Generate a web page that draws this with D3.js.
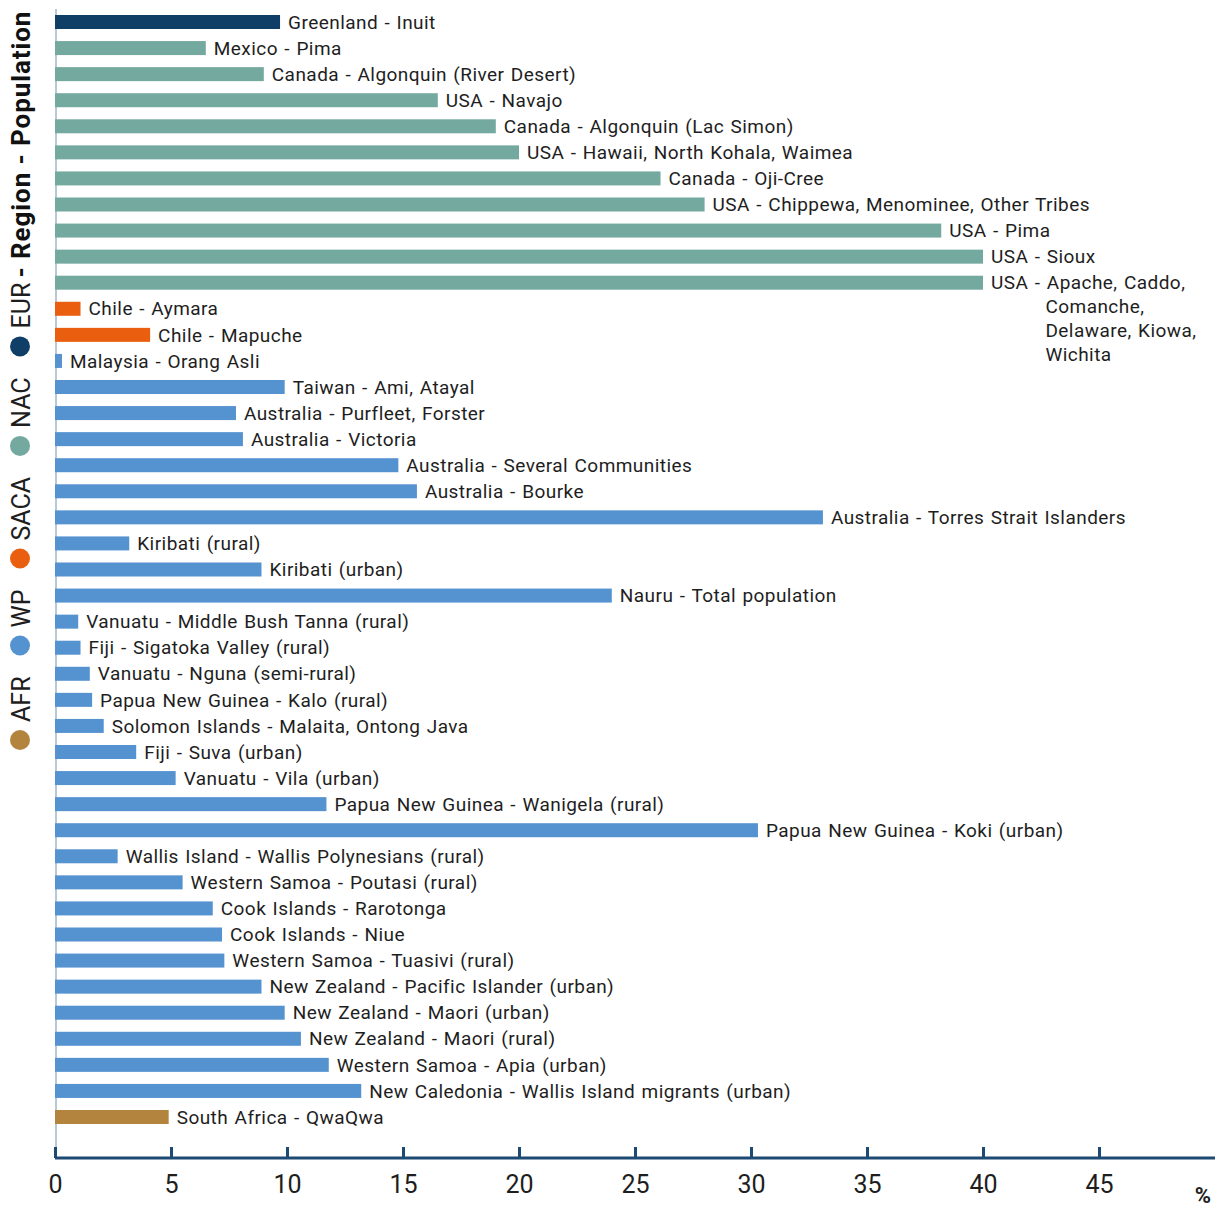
<!DOCTYPE html>
<html>
<head>
<meta charset="utf-8">
<script src="https://cdn.jsdelivr.net/npm/d3@7"></script>
<style>
  html, body { margin: 0; padding: 0; background: #fff; }
  svg { display: block; font-family: Roboto, "Noto Sans", sans-serif; }
</style>
</head>
<body>
<svg id="chart" width="1227" height="1207"></svg>
<script>
// Population labels, top to bottom
const populations = [
  "Greenland - Inuit",
  "Mexico - Pima",
  "Canada - Algonquin (River Desert)",
  "USA - Navajo",
  "Canada - Algonquin (Lac Simon)",
  "USA - Hawaii, North Kohala, Waimea",
  "Canada - Oji-Cree",
  "USA - Chippewa, Menominee, Other Tribes",
  "USA - Pima",
  "USA - Sioux",
  "USA - Apache, Caddo, Comanche, Delaware, Kiowa, Wichita",
  "Chile - Aymara",
  "Chile - Mapuche",
  "Malaysia - Orang Asli",
  "Taiwan - Ami, Atayal",
  "Australia - Purfleet, Forster",
  "Australia - Victoria",
  "Australia - Several Communities",
  "Australia - Bourke",
  "Australia - Torres Strait Islanders",
  "Kiribati (rural)",
  "Kiribati (urban)",
  "Nauru - Total population",
  "Vanuatu - Middle Bush Tanna (rural)",
  "Fiji - Sigatoka Valley (rural)",
  "Vanuatu - Nguna (semi-rural)",
  "Papua New Guinea - Kalo (rural)",
  "Solomon Islands - Malaita, Ontong Java",
  "Fiji - Suva (urban)",
  "Vanuatu - Vila (urban)",
  "Papua New Guinea - Wanigela (rural)",
  "Papua New Guinea - Koki (urban)",
  "Wallis Island - Wallis Polynesians (rural)",
  "Western Samoa - Poutasi (rural)",
  "Cook Islands - Rarotonga",
  "Cook Islands - Niue",
  "Western Samoa - Tuasivi (rural)",
  "New Zealand - Pacific Islander (urban)",
  "New Zealand - Maori (urban)",
  "New Zealand - Maori (rural)",
  "Western Samoa - Apia (urban)",
  "New Caledonia - Wallis Island migrants (urban)",
  "South Africa - QwaQwa"
];

// Prevalence, %
const prevalence = [
  9.7, 6.5, 9.0, 16.5, 19.0, 20.0, 26.1, 28.0, 38.2, 40.0, 40.0,
  1.1, 4.1,
  0.3, 9.9, 7.8, 8.1, 14.8, 15.6, 33.1, 3.2, 8.9, 24.0, 1.0, 1.1, 1.5, 1.6,
  2.1, 3.5, 5.2, 11.7, 30.3, 2.7, 5.5, 6.8, 7.2, 7.3, 8.9, 9.9, 10.6, 11.8, 13.2,
  4.9
];

// Region of each population
const regionOf = [
  "EUR", "NAC", "NAC", "NAC", "NAC", "NAC", "NAC", "NAC", "NAC", "NAC", "NAC",
  "SACA", "SACA",
  "WP", "WP", "WP", "WP", "WP", "WP", "WP", "WP", "WP", "WP", "WP", "WP", "WP", "WP",
  "WP", "WP", "WP", "WP", "WP", "WP", "WP", "WP", "WP", "WP", "WP", "WP", "WP", "WP", "WP",
  "AFR"
];

// Legend order, bottom to top along the rotated title
const regions = ["AFR", "WP", "SACA", "NAC", "EUR"];
const regionColors = ["#b3843e", "#5592d0", "#ea5f0f", "#74a99f", "#0f3e66"];

const xTicks = [0, 5, 10, 15, 20, 25, 30, 35, 40, 45];

// Long label broken into lines
const wrappedLabels = {
  "USA - Apache, Caddo, Comanche, Delaware, Kiowa, Wichita":
    ["USA - ", "Apache, Caddo,", "Comanche,", "Delaware, Kiowa,", "Wichita"]
};

const svg = d3.select("#chart");
const color = d3.scaleOrdinal().domain(regions).range(regionColors);

const x = d3.scaleLinear().domain([0, 50]).range([55, 1215]);
const y = d3.scalePoint().domain(populations).range([22, 1117]);
const barH = 14;
const axisY = 1158;

// left baseline
svg.append("line")
  .attr("x1", 56).attr("x2", 56)
  .attr("y1", 9).attr("y2", axisY)
  .attr("stroke", "#b7c8d6").attr("stroke-width", 2);

// bars
svg.append("g").selectAll("rect")
  .data(populations)
  .join("rect")
  .attr("x", x(0))
  .attr("y", d => y(d) - barH / 2)
  .attr("width", (d, i) => x(prevalence[i]) - x(0))
  .attr("height", barH)
  .attr("fill", (d, i) => color(regionOf[i]));

// labels
const labelG = svg.append("g")
  .attr("font-size", 19)
  .attr("fill", "#1e1e1e")
  .attr("letter-spacing", 0.45)
  .attr("word-spacing", 1.2);

populations.forEach((name, i) => {
  const lx = x(prevalence[i]) + 8;
  const ly = y(name);
  if (wrappedLabels[name]) {
    const parts = wrappedLabels[name];
    const t = labelG.append("text")
      .attr("x", lx).attr("y", ly).attr("dy", "0.35em");
    t.append("tspan").text(parts[0]);
    const indent = t.node().getComputedTextLength() + 5;
    t.append("tspan").text(parts[1]);
    parts.slice(2).forEach((p, k) => {
      labelG.append("text")
        .attr("x", lx + indent)
        .attr("y", ly + 24 * (k + 1))
        .attr("dy", "0.35em")
        .text(p);
    });
  } else {
    labelG.append("text")
      .attr("x", lx).attr("y", ly).attr("dy", "0.35em")
      .text(name);
  }
});

// x axis
const axis = d3.axisBottom(x)
  .tickValues(xTicks)
  .tickSize(0)
  .tickPadding(18)
  .tickFormat(d3.format("d"));

const axisG = svg.append("g")
  .attr("transform", `translate(0,${axisY})`)
  .call(axis);
axisG.select(".domain")
  .attr("stroke", "#1c4a73").attr("stroke-width", 3)
  .attr("d", `M${x(0)},0H${x(50)}`);
axisG.selectAll(".tick line")
  .attr("y1", -11).attr("y2", 0)
  .attr("stroke", "#1c4a73").attr("stroke-width", 3);
axisG.selectAll(".tick text")
  .attr("font-size", 25)
  .attr("font-family", "Roboto, 'Noto Sans', sans-serif")
  .attr("fill", "#1e1e1e")
  .attr("dy", "0.71em")
  .attr("y", 17);

svg.append("text")
  .attr("x", 1203).attr("y", 1203)
  .attr("text-anchor", "middle")
  .attr("font-size", 22).attr("font-weight", "bold")
  .attr("fill", "#1e1e1e")
  .text("%");

// rotated legend title
const legend = svg.append("g")
  .attr("transform", "translate(30,750) rotate(-90)");
let pos = 0;
regions.forEach((r, i) => {
  legend.append("circle")
    .attr("cx", pos + 10).attr("cy", -10)
    .attr("r", 10)
    .attr("fill", color(r));
  pos += 28;
  const t = legend.append("text")
    .attr("x", pos).attr("y", 0)
    .attr("font-size", 25)
    .attr("fill", "#1e1e1e")
    .text(r);
  pos += t.node().getComputedTextLength() + 21;
});
legend.append("text")
  .attr("x", pos - 16).attr("y", 0)
  .attr("font-size", 26)
  .attr("font-weight", "bold")
  .attr("fill", "#111")
  .attr("textLength", 266)
  .attr("lengthAdjust", "spacing")
  .text("- Region - Population");
</script>
</body>
</html>
